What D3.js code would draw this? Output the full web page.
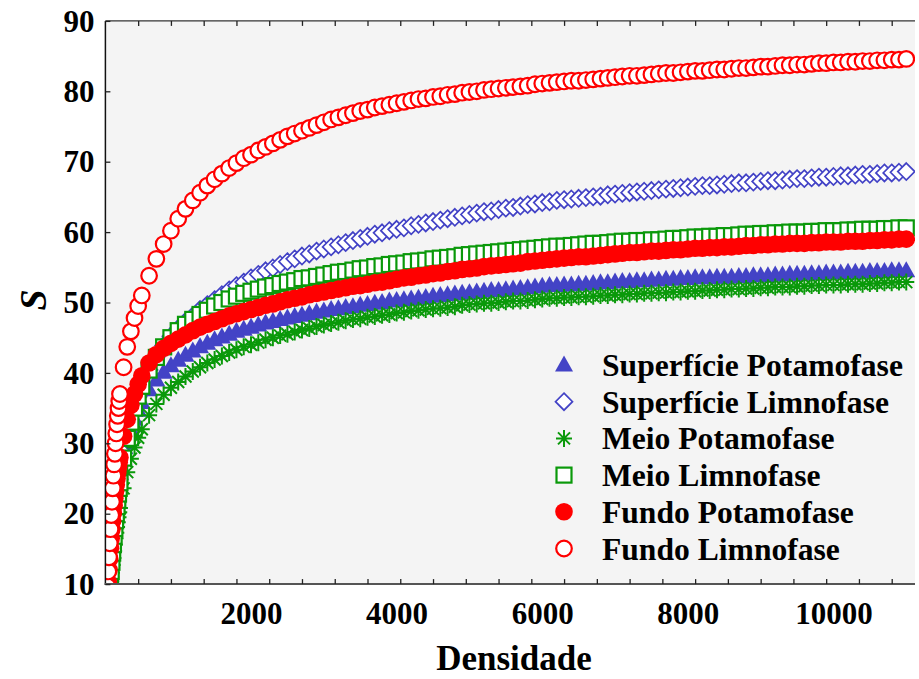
<!DOCTYPE html>
<html><head><meta charset="utf-8">
<script src="https://cdn.jsdelivr.net/npm/d3@7"></script>
<style>
html,body{margin:0;padding:0;background:#fff;}
svg{display:block;}
text{font-family:"Liberation Serif","Times New Roman",serif;font-weight:bold;}
</style></head>
<body>
<svg id="chart" width="919" height="679"></svg>
<script>
// ---------- data ----------
const xValues = [10,20,30,40,50,60,70,80,90,100,110,120,130,140,150,160,170,180,190,200,
 250,300,350,400,450,500,
 600,700,800,900,1000,
 1100,1200,1300,1400,1500,1600,1700,1800,1900,2000,
 2100,2200,2300,2400,2500,2600,2700,2800,2900,3000,
 3100,3200,3300,3400,3500,3600,3700,3800,3900,4000,
 4100,4200,4300,4400,4500,4600,4700,4800,4900,5000,
 5100,5200,5300,5400,5500,5600,5700,5800,5900,6000,
 6100,6200,6300,6400,6500,6600,6700,6800,6900,7000,
 7100,7200,7300,7400,7500,7600,7700,7800,7900,8000,
 8100,8200,8300,8400,8500,8600,8700,8800,8900,9000,
 9100,9200,9300,9400,9500,9600,9700,9800,9900,10000,
 10100,10200,10300,10400,10500,10600,10700,10800,10900,11000];

const superficiePotamofase = [2.0,4.0,5.9,7.7,9.4,11.0,12.5,13.9,15.2,16.4,17.5,18.6,19.6,20.5,21.4,22.2,23.0,23.7,24.4,25.0,
 27.8,30.0,31.9,33.4,34.7,35.8,
 37.6,39.0,40.1,41.0,41.8,
 42.5,43.1,43.7,44.2,44.7,45.1,45.5,45.9,46.2,46.5,
 46.8,47.1,47.3,47.6,47.8,48.0,48.2,48.4,48.6,48.8,
 49.0,49.1,49.3,49.4,49.6,49.7,49.9,50.0,50.2,50.3,
 50.4,50.5,50.6,50.7,50.9,51.0,51.1,51.2,51.3,51.4,
 51.5,51.6,51.7,51.7,51.8,51.9,52.0,52.1,52.2,52.3,
 52.4,52.4,52.5,52.5,52.6,52.6,52.7,52.8,52.8,52.9,
 53.0,53.0,53.1,53.1,53.2,53.2,53.3,53.3,53.4,53.4,
 53.5,53.5,53.5,53.6,53.6,53.6,53.7,53.7,53.8,53.8,
 53.8,53.9,53.9,54.0,54.0,54.0,54.1,54.1,54.2,54.2,
 54.2,54.3,54.3,54.3,54.4,54.4,54.4,54.5,54.5,54.5];

const superficieLimnofase = [2.2,4.2,6.0,7.8,9.4,11.0,12.5,13.9,15.2,16.5,17.7,18.8,19.8,20.8,21.7,22.6,23.4,24.2,24.9,25.6,
 28.6,31.1,33.2,35.0,36.6,38.0,
 40.4,42.3,43.9,45.2,46.3,
 47.3,48.1,49.0,49.7,50.4,51.1,51.8,52.4,52.9,53.5,
 54.0,54.5,54.9,55.4,55.8,56.2,56.6,56.9,57.3,57.6,
 57.9,58.2,58.5,58.8,59.1,59.4,59.7,59.9,60.2,60.4,
 60.6,60.9,61.1,61.3,61.5,61.7,61.9,62.1,62.3,62.5,
 62.7,62.9,63.0,63.2,63.4,63.5,63.7,63.9,64.0,64.2,
 64.3,64.5,64.6,64.7,64.8,64.9,65.0,65.1,65.3,65.4,
 65.5,65.6,65.7,65.8,65.9,66.0,66.1,66.2,66.3,66.4,
 66.5,66.6,66.6,66.7,66.8,66.9,67.0,67.0,67.1,67.2,
 67.3,67.3,67.4,67.5,67.6,67.6,67.7,67.8,67.8,67.9,
 68.0,68.0,68.1,68.2,68.2,68.3,68.4,68.4,68.5,68.6];

const meioPotamofase = [0.8,2.3,3.8,5.2,6.6,7.9,9.2,10.4,11.6,12.7,13.7,14.7,15.6,16.5,17.3,18.1,18.8,19.5,20.2,20.8,
 23.6,25.9,27.8,29.4,30.8,32.0,
 34.0,35.6,36.9,37.9,38.7,
 39.5,40.2,40.8,41.4,41.9,42.4,42.9,43.3,43.7,44.0,
 44.3,44.7,45.0,45.3,45.5,45.8,46.1,46.3,46.6,46.8,
 47.0,47.2,47.4,47.6,47.7,47.9,48.0,48.2,48.3,48.5,
 48.6,48.8,48.9,49.0,49.1,49.2,49.3,49.4,49.6,49.7,
 49.8,49.9,49.9,50.0,50.1,50.2,50.2,50.3,50.4,50.5,
 50.6,50.6,50.7,50.7,50.8,50.8,50.9,51.0,51.0,51.1,
 51.1,51.2,51.2,51.3,51.3,51.4,51.4,51.5,51.5,51.6,
 51.6,51.7,51.7,51.8,51.8,51.9,51.9,52.0,52.0,52.1,
 52.1,52.2,52.2,52.2,52.3,52.3,52.4,52.4,52.5,52.5,
 52.5,52.6,52.6,52.6,52.7,52.7,52.8,52.8,52.9,52.9];

const meioLimnofase = [1.5,3.0,4.5,6.0,7.5,9.0,10.4,11.8,13.1,14.4,15.6,16.8,17.9,19.0,20.0,21.0,21.9,22.8,23.6,24.4,
 27.9,30.7,33.0,35.0,36.7,38.1,
 40.4,42.2,43.7,45.0,46.0,
 46.9,47.6,48.3,48.9,49.5,50.0,50.5,50.9,51.3,51.6,
 51.9,52.2,52.4,52.7,52.9,53.1,53.4,53.5,53.7,53.9,
 54.1,54.3,54.4,54.6,54.8,54.9,55.1,55.2,55.4,55.5,
 55.6,55.8,55.9,56.0,56.2,56.3,56.4,56.5,56.7,56.8,
 56.9,57.0,57.1,57.2,57.3,57.4,57.5,57.6,57.7,57.8,
 57.9,58.0,58.0,58.1,58.2,58.3,58.4,58.4,58.5,58.6,
 58.7,58.7,58.8,58.8,58.9,58.9,59.0,59.1,59.1,59.2,
 59.3,59.3,59.4,59.4,59.5,59.5,59.6,59.7,59.7,59.8,
 59.8,59.9,59.9,60.0,60.0,60.0,60.1,60.1,60.2,60.2,
 60.2,60.3,60.3,60.4,60.4,60.4,60.5,60.5,60.6,60.6];

const fundoPotamofase = [4.3,6.5,8.5,10.3,12.0,13.6,15.1,16.5,17.8,19.0,20.1,21.2,22.2,23.2,24.1,25.0,25.8,26.6,27.3,28.0,
 31.0,33.4,35.4,37.0,38.4,39.6,
 41.4,42.6,43.5,44.2,44.8,
 45.4,46.0,46.5,46.9,47.3,47.7,48.1,48.4,48.7,49.0,
 49.3,49.6,49.8,50.1,50.4,50.6,50.8,51.1,51.3,51.5,
 51.7,51.9,52.1,52.3,52.4,52.6,52.8,52.9,53.1,53.3,
 53.5,53.6,53.8,53.9,54.1,54.2,54.4,54.5,54.7,54.8,
 54.9,55.1,55.2,55.3,55.4,55.5,55.6,55.8,55.9,56.0,
 56.1,56.2,56.3,56.4,56.5,56.5,56.6,56.7,56.8,56.9,
 57.0,57.1,57.1,57.2,57.3,57.3,57.4,57.5,57.5,57.6,
 57.7,57.7,57.8,57.8,57.9,57.9,58.0,58.1,58.1,58.2,
 58.2,58.3,58.3,58.4,58.4,58.4,58.5,58.5,58.6,58.6,
 58.6,58.7,58.7,58.7,58.8,58.8,58.9,58.9,59.0,59.0];

const fundoLimnofase = [5.0,7.5,9.7,11.8,13.8,15.8,17.8,19.8,21.7,23.6,25.4,27.0,28.5,30.0,31.4,32.7,33.9,35.0,36.0,37.0,
 40.8,43.7,45.9,47.8,49.5,51.0,
 53.8,56.2,58.3,60.2,61.9,
 63.3,64.5,65.6,66.6,67.5,68.3,69.1,69.8,70.5,71.0,
 71.6,72.1,72.6,73.1,73.6,74.0,74.4,74.8,75.2,75.6,
 76.0,76.3,76.6,76.9,77.2,77.4,77.7,77.9,78.1,78.3,
 78.5,78.7,78.9,79.0,79.2,79.3,79.5,79.6,79.8,79.9,
 80.0,80.2,80.3,80.4,80.5,80.6,80.7,80.8,81.0,81.1,
 81.2,81.3,81.4,81.5,81.5,81.6,81.7,81.8,81.9,82.0,
 82.1,82.2,82.2,82.3,82.4,82.5,82.6,82.6,82.7,82.8,
 82.9,82.9,83.0,83.1,83.1,83.2,83.3,83.3,83.4,83.5,
 83.5,83.6,83.7,83.7,83.8,83.8,83.9,84.0,84.0,84.1,
 84.1,84.2,84.2,84.3,84.3,84.4,84.4,84.5,84.5,84.6];

const seriesNames = ["Superfície Potamofase","Superfície Limnofase","Meio Potamofase","Meio Limnofase","Fundo Potamofase","Fundo Limnofase"];
const xTickLabels = [2000,4000,6000,8000,10000];
const xMinorTicks = [450,900,1350,1800,2250,2700,3150,3600,4050,4500,4950,5400,5850,6300,6750,7200,7650,8100,8550,9000,9450,9900,10350,10800];
const yTicks = [10,20,30,40,50,60,70,80,90];

// ---------- layout ----------
const svg = d3.select("#chart");
const L = 105.4, R = 915, T = 20.9, B = 584.1;
const x = d3.scaleLinear().domain([0, 11120]).range([L, R]);
const y = d3.scaleLinear().domain([10, 90]).range([B, T]);

const BLUE = "#4343c6", GREEN = "#0a990a", RED = "#ff0000";

svg.append("rect").attr("x",0).attr("y",0).attr("width",919).attr("height",679).attr("fill","#fff");
svg.append("rect").attr("x",L).attr("y",T).attr("width",R-L).attr("height",B-T).attr("fill","#f4f4f4");

svg.append("defs").append("clipPath").attr("id","plotclip")
  .append("rect").attr("x",L).attr("y",T).attr("width",R-L).attr("height",B-T);

// marker definitions
const markers = [
  {name: seriesNames[0], data: superficiePotamofase, draw: g => g.append("path").attr("d","M0,-9.5L9,6.5L-9,6.5Z").attr("fill",BLUE)},
  {name: seriesNames[1], data: superficieLimnofase, draw: g => g.append("path").attr("d","M0,-8.5L8.5,0L0,8.5L-8.5,0Z").attr("fill","#fff").attr("stroke",BLUE).attr("stroke-width",1.7)},
  {name: seriesNames[2], data: meioPotamofase, draw: g => g.append("path").attr("d","M0,-8.5V8.5M-8,0H8M-6,-6L6,6M-6,6L6,-6").attr("fill","none").attr("stroke",GREEN).attr("stroke-width",2)},
  {name: seriesNames[3], data: meioLimnofase, draw: g => g.append("rect").attr("x",-7.5).attr("y",-7.5).attr("width",15).attr("height",15).attr("fill","#fff").attr("stroke",GREEN).attr("stroke-width",2.2)},
  {name: seriesNames[4], data: fundoPotamofase, draw: g => g.append("circle").attr("r",8.8).attr("fill",RED)},
  {name: seriesNames[5], data: fundoLimnofase, draw: g => g.append("circle").attr("r",7.8).attr("fill","#fff").attr("stroke",RED).attr("stroke-width",2.2)}
];

const plot = svg.append("g").attr("clip-path","url(#plotclip)");
markers.forEach(m => {
  const pts = xValues.map((xv,i) => ({x: xv, y: m.data[i]}));
  plot.append("g").selectAll("g").data(pts).join("g")
    .attr("transform", d => `translate(${x(d.x)},${y(d.y)})`)
    .each(function(){ m.draw(d3.select(this)); });
});

// frame lines
svg.append("line").attr("x1",L).attr("x2",L).attr("y1",T).attr("y2",B+1).attr("stroke","#111").attr("stroke-width",1.5);
svg.append("line").attr("x1",L-0.7).attr("x2",R).attr("y1",B).attr("y2",B).attr("stroke","#555").attr("stroke-width",2);
svg.append("line").attr("x1",L).attr("x2",R).attr("y1",T).attr("y2",T).attr("stroke","#333").attr("stroke-width",1.2);

// ticks via axes
const tickStyle = g => { g.select(".domain").remove(); g.selectAll(".tick line").attr("stroke","#222").attr("stroke-width",1.3); };
svg.append("g").attr("transform",`translate(0,${B})`)
  .call(d3.axisBottom(x).tickValues(xMinorTicks).tickSizeInner(-5).tickSizeOuter(0).tickFormat(""))
  .call(tickStyle);
svg.append("g").attr("transform",`translate(0,${T})`)
  .call(d3.axisTop(x).tickValues(xMinorTicks).tickSizeInner(-5).tickSizeOuter(0).tickFormat(""))
  .call(tickStyle);
const xl = svg.append("g").attr("transform",`translate(0,${B})`)
  .call(d3.axisBottom(x).tickValues(xTickLabels).tickSize(0).tickPadding(18).tickFormat(d3.format("d")));
xl.select(".domain").remove();
xl.selectAll("text").attr("font-size",31).attr("fill","#000").style("font-family","'Liberation Serif',serif").style("font-weight","bold");

const yl = svg.append("g").attr("transform",`translate(${L},0)`)
  .call(d3.axisLeft(y).tickValues(yTicks).tickSizeInner(-5).tickSizeOuter(0).tickPadding(11));
yl.select(".domain").remove();
yl.selectAll(".tick line").attr("stroke","#222").attr("stroke-width",1.3);
yl.selectAll("text").attr("font-size",31).attr("fill","#000").attr("dy","0.33em").style("font-family","'Liberation Serif',serif").style("font-weight","bold");

// axis titles
svg.append("text").attr("x",514).attr("y",670).attr("text-anchor","middle").attr("font-size",35).attr("fill","#000").text("Densidade");
svg.append("text").attr("transform","translate(46,300) rotate(-90)").attr("text-anchor","middle")
  .attr("font-size",38).style("font-style","italic").attr("fill","#000").text("S");

// legend
const legY0 = 365, legDY = 36.7, legSX = 564, legTX = 602;
markers.forEach((m,i) => {
  const g = svg.append("g").attr("transform",`translate(${legSX},${legY0 + i*legDY})`);
  m.draw(g);
  svg.append("text").attr("x",legTX).attr("y",legY0 + i*legDY + 11).attr("font-size",31.6).attr("fill","#000").text(m.name);
});
</script>
</body></html>
